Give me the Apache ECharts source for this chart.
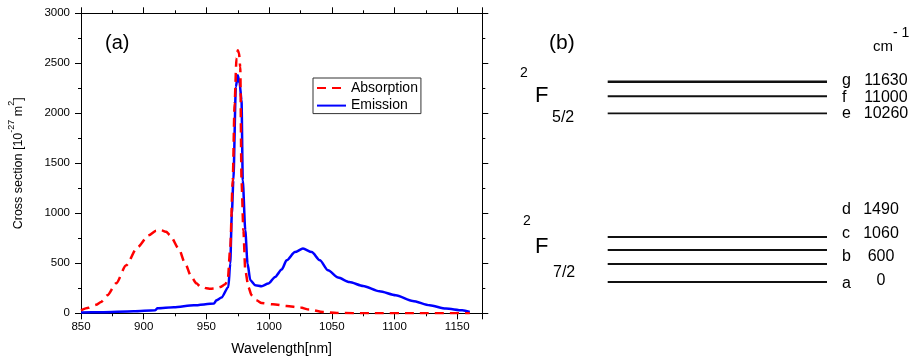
<!DOCTYPE html>
<html>
<head>
<meta charset="utf-8">
<script src="https://cdn.jsdelivr.net/npm/echarts@6/dist/echarts.min.js"></script>
<style>
html,body{margin:0;padding:0;background:#fff;}
#chart{width:911px;height:363px;}
#err{position:absolute;left:0;top:330px;font:9px monospace;color:#c00;white-space:pre-wrap;width:900px;}
</style>
</head>
<body>
<div id="chart"></div>
<div id="err"></div>
<script>
// ---------- Data (panel a) ----------
const absWavelength = [850, 856, 862, 866, 871, 878, 886, 895, 904, 910, 914, 918, 921, 928, 933, 938, 942, 945, 950, 953, 958, 961, 965, 967, 969, 971, 972.5, 974, 975, 976, 977, 978, 979.5, 981, 983.5, 986, 990, 994, 1003, 1014, 1025, 1032, 1043, 1054, 1080, 1120, 1160];
const absValues     = [30, 55, 85, 113, 180, 300, 480, 660, 780, 825, 830, 815, 780, 645, 500, 365, 300, 270, 250, 245, 250, 262, 290, 330, 650, 1330, 2100, 2550, 2630, 2600, 2460, 1330, 830, 430, 263, 180, 130, 103, 90, 73, 57, 37, 13, 3, 0, 0, 0];

const emiWavelength = [850, 866, 892, 909, 911, 924, 940, 956, 958, 962, 967.5, 969, 970.3, 971.5, 973.5, 975, 976.5, 978, 979, 981, 982.8, 985, 989, 994, 999.4, 1004.8, 1010, 1014, 1020.6, 1027, 1034, 1040.5, 1047, 1055, 1064, 1075, 1088, 1101, 1114.5, 1128, 1141, 1154, 1160];
const emiValues     = [8, 10, 20, 30, 50, 60, 80, 97, 130, 157, 263, 497, 1000, 1330, 2263, 2380, 2300, 2130, 1330, 830, 497, 330, 280, 270, 297, 363, 437, 530, 613, 647, 613, 530, 430, 357, 313, 273, 220, 180, 123, 80, 47, 30, 13];

// ---------- Data (panel b) ----------
const upperLevelNames    = ['g', 'f', 'e'];
const upperLevelEnergies = [11630, 11000, 10260];
const lowerLevelNames    = ['d', 'c', 'b', 'a'];
const lowerLevelEnergies = [1490, 1060, 600, 0];

const FONT = '"Liberation Sans", Arial, sans-serif';
function pairs(xs, ys) { return xs.map((x, i) => [x, ys[i]]); }

const black = {color: '#000', width: 1};
const plotRect = {left: 81, right: 428.7, top: 13.3, bottom: 49.7};

function xAxisDef(pos, showLabel, extra) {
  return Object.assign({
    gridIndex: 0, type: 'value', min: 850, max: 1170, interval: 50, position: pos,
    axisLine: {show: true, onZero: false, lineStyle: black},
    axisTick: {show: true, inside: false, length: 6, lineStyle: black},
    minorTick: {show: true, splitNumber: 2, length: 3, lineStyle: black},
    axisLabel: showLabel ? {show: true, showMaxLabel: false, fontSize: 11.5, color: '#000', fontFamily: FONT, margin: 8, formatter: v => String(v)} : {show: false},
    splitLine: {show: false}, minorSplitLine: {show: false}
  }, extra || {});
}
function yAxisDef(pos, showLabel, extra) {
  return Object.assign({
    gridIndex: 0, type: 'value', min: 0, max: 3000, interval: 500, position: pos,
    axisLine: {show: true, onZero: false, lineStyle: black},
    axisTick: {show: true, inside: false, length: 6, lineStyle: black},
    minorTick: {show: true, splitNumber: 2, length: 3, lineStyle: black},
    axisLabel: showLabel ? {show: true, fontSize: 11.5, color: '#000', fontFamily: FONT, margin: 11, formatter: v => String(v)} : {show: false},
    splitLine: {show: false}, minorSplitLine: {show: false}
  }, extra || {});
}

// level diagram layout
const levelLeft = 607.7, levelWidth = 219.3;

const levelSeries = [];
upperLevelEnergies.forEach((e, i) => {
  levelSeries.push({
    type: 'line', xAxisIndex: 2, yAxisIndex: 2, symbol: 'none', silent: true,
    data: [[0, e], [1, e]],
    lineStyle: {color: '#111', width: [2.6, 2.2, 1.8][i]}
  });
});
lowerLevelEnergies.forEach((e) => {
  levelSeries.push({
    type: 'line', xAxisIndex: 3, yAxisIndex: 3, symbol: 'none', silent: true,
    data: [[0, e], [1, e]],
    lineStyle: {color: '#111', width: 2}
  });
});

const graphics = [];
function txt(text, x, y, size, align) {
  graphics.push({
    type: 'text', x: x, y: y, silent: true,
    style: {text: text, fontSize: size, fontFamily: FONT, fill: '#000', align: align || 'left', verticalAlign: 'middle'}
  });
}
txt('(a)', 105, 43.5, 20);
txt('(b)', 549, 43.5, 21);
txt('cm', 873, 47, 15);
txt('- 1', 893, 33, 14);
const upperRowY = [81, 97.5, 114];
upperLevelNames.forEach((n, i) => {
  txt(n, 842, upperRowY[i], 16);
  txt(String(upperLevelEnergies[i]), 886, upperRowY[i], 16, 'center');
});
const lowerRowY = [210, 233.5, 257, 281];
lowerLevelNames.forEach((n, i) => {
  txt(n, 842, lowerRowY[i] + (n === 'a' ? 3 : 0), 16);
  txt(String(lowerLevelEnergies[i]), 881, lowerRowY[i], 16, 'center');
});
txt('2', 520, 73, 14);
txt('F', 535, 96, 22);
txt('5/2', 552, 118, 16);
txt('2', 523, 221, 14);
txt('F', 535, 247, 22);
txt('7/2', 553, 273, 16);

const option = {
  backgroundColor: '#fff',
  animation: false,
  grid: [
    Object.assign({}, plotRect),
    {left: levelLeft, width: levelWidth, top: 73.17, height: 46.13},
    {left: levelLeft, width: levelWidth, top: 230.66, height: 57.38}
  ],
  legend: {
    data: ['Absorption', 'Emission'],
    orient: 'vertical', left: 313, top: 78,
    itemWidth: 29, itemHeight: 14, itemGap: 3.6,
    padding: [3, 3, 1, 3],
    borderColor: '#333', borderWidth: 1, borderRadius: 0,
    backgroundColor: '#fff',
    itemStyle: {opacity: 0},
    textStyle: {fontSize: 14, color: '#000', fontFamily: FONT}
  },
  xAxis: [
    xAxisDef('bottom', true, {
      name: 'Wavelength[nm]', nameLocation: 'middle', nameGap: 29,
      nameTextStyle: {fontSize: 14, color: '#000', fontFamily: FONT}
    }),
    xAxisDef('top', false),
    {gridIndex: 1, type: 'value', min: 0, max: 1, show: false},
    {gridIndex: 2, type: 'value', min: 0, max: 1, show: false}
  ],
  yAxis: [
    yAxisDef('left', true, {
      name: 'Cross section [10{sup|-27} m{sup|2}]', nameLocation: 'middle', nameGap: 50, nameRotate: 90,
      nameTextStyle: {
        fontSize: 12.5, color: '#000', fontFamily: FONT, lineHeight: 24,
        rich: {sup: {fontSize: 9, lineHeight: 9, verticalAlign: 'top', color: '#000', fontFamily: FONT}}
      }
    }),
    yAxisDef('right', false),
    {gridIndex: 1, type: 'value', min: 10000, max: 12000, show: false},
    {gridIndex: 2, type: 'value', min: -200, max: 1700, show: false}
  ],
  series: [
    {
      name: 'Absorption', type: 'line', xAxisIndex: 0, yAxisIndex: 0,
      data: pairs(absWavelength, absValues),
      symbol: 'none', smooth: 0.25, smoothMonotone: 'x',
      lineStyle: {color: '#ff0000', width: 2.5, type: [9, 6]},
      itemStyle: {color: '#ff0000'}, z: 3
    },
    {
      name: 'Emission', type: 'line', xAxisIndex: 0, yAxisIndex: 0,
      data: pairs(emiWavelength, emiValues),
      symbol: 'none', smooth: 0.25, smoothMonotone: 'x',
      lineStyle: {color: '#0000ff', width: 2.5},
      itemStyle: {color: '#0000ff'}, z: 2
    }
  ].concat(levelSeries),
  graphic: graphics
};

const chart = echarts.init(document.getElementById('chart'));
try { chart.setOption(option); }
catch (e) { document.getElementById('err').textContent = e.message; }
</script>
</body>
</html>
